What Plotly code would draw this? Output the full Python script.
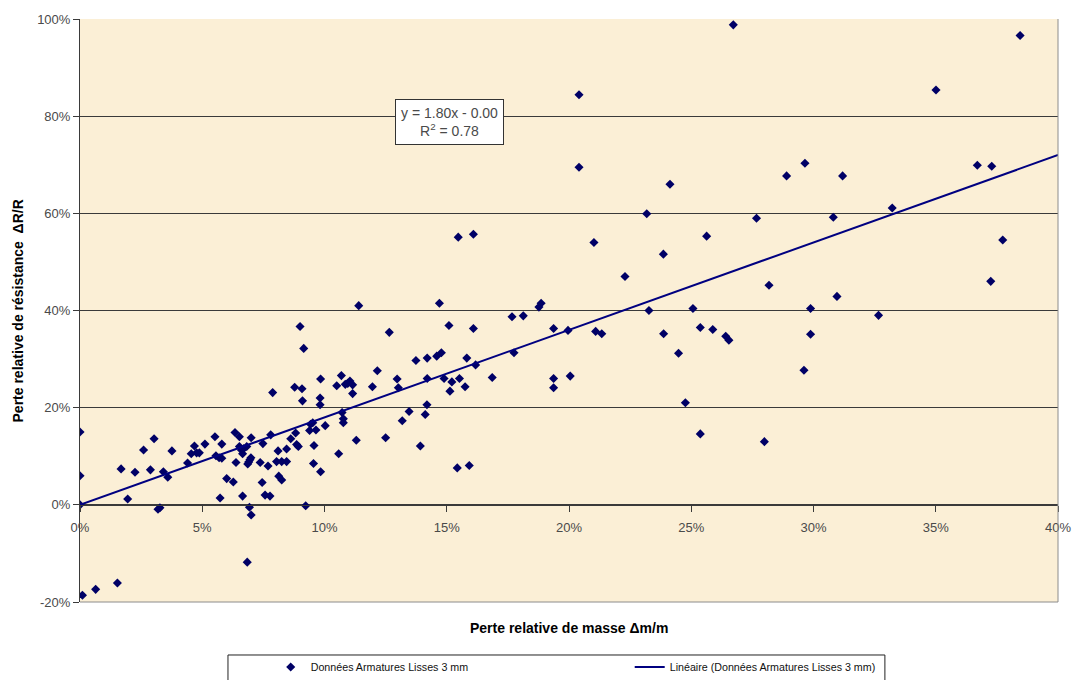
import plotly.graph_objects as go

# Relative mass loss (%) and relative resistance loss (%) of smooth 3 mm bars
mass_loss = [
    0.0, 0.0, 0.0, 0.1, 0.64, 1.53, 1.68, 1.95, 2.25, 2.6,
    2.88, 3.03, 3.19, 3.27, 3.41, 3.59, 3.76, 4.4, 4.55, 4.68,
    4.77, 4.88, 5.11, 5.52, 5.56, 5.69, 5.8, 5.73, 5.8, 6.0,
    6.27, 6.34, 6.38, 6.52, 6.52, 6.6, 6.65, 6.7, 6.65, 6.82,
    6.86, 6.9, 6.95, 6.99, 6.93, 7.0, 7.0, 6.84, 7.37, 7.45,
    7.48, 7.57, 7.77, 7.69, 7.8, 7.88, 8.1, 8.04, 8.25, 8.13,
    8.25, 8.45, 8.45, 8.62, 8.78, 8.82, 8.86, 8.93, 9.0, 9.08,
    9.1, 9.15, 9.23, 9.39, 9.43, 9.52, 9.55, 9.57, 9.65, 9.82,
    9.82, 9.84, 9.84, 10.03, 10.5, 10.58, 10.69, 10.72, 10.77, 10.77,
    10.85, 10.95, 11.04, 11.15, 11.15, 11.3, 11.4, 11.96, 12.16, 12.5,
    12.65, 12.97, 13.02, 13.18, 13.46, 13.74, 13.92, 14.12, 14.19, 14.2,
    14.2, 14.59, 14.78, 14.7, 14.89, 15.09, 15.13, 15.21, 15.43, 15.52,
    15.75, 15.82, 15.92, 16.09, 16.18, 16.86, 17.67, 18.13, 17.75, 18.77,
    18.86, 19.37, 19.37, 19.37, 19.96, 20.05, 21.09, 21.34, 23.27, 23.87,
    24.48, 24.76, 25.07, 25.37, 25.37, 20.41, 20.41, 24.13, 23.18, 15.47,
    16.09, 21.02, 25.63, 23.86, 22.29, 26.72, 38.45, 35.01, 29.65, 28.9,
    31.19, 36.7, 37.29, 27.67, 30.81, 33.22, 37.74, 28.18, 37.25, 30.96,
    29.88, 32.66, 25.88, 26.41, 26.54, 29.88, 29.61, 27.99,
]
resistance_loss = [
    15.0, 6.0, 0.0, -18.6, -17.4, -16.1, 7.4, 1.2, 6.7, 11.3,
    7.2, 13.6, -0.9, -0.6, 6.8, 5.7, 11.1, 8.6, 10.5, 12.1,
    10.7, 10.7, 12.5, 14.0, 10.1, 9.7, 9.6, 1.4, 12.5, 5.4,
    4.7, 14.9, 8.7, 14.0, 12.0, 11.3, 10.5, 11.6, 1.8, 12.0,
    8.4, 8.8, 9.3, 9.7, -0.5, 13.8, -2.1, -11.8, 8.7, 4.6,
    12.6, 2.0, 1.8, 8.0, 14.4, 23.1, 11.1, 8.9, 8.9, 5.9,
    5.1, 8.9, 11.5, 13.6, 24.2, 14.8, 12.4, 12.0, 36.7, 23.9,
    21.4, 32.2, -0.2, 15.3, 16.6, 16.9, 8.5, 12.2, 15.4, 22.0,
    20.6, 25.9, 6.8, 16.3, 24.5, 10.5, 26.6, 19.0, 17.7, 16.9,
    24.8, 25.0, 25.5, 24.7, 22.9, 13.3, 41.0, 24.3, 27.6, 13.8,
    35.5, 25.9, 24.1, 17.3, 19.2, 29.7, 12.1, 18.6, 20.6, 30.2,
    26.0, 30.6, 31.3, 41.5, 26.0, 36.9, 23.4, 25.3, 7.6, 26.0,
    24.3, 30.2, 8.1, 36.3, 28.8, 26.2, 38.7, 38.9, 31.3, 40.7,
    41.5, 36.3, 26.0, 24.1, 35.9, 26.5, 35.7, 35.2, 40.0, 35.2,
    31.2, 21.0, 40.4, 36.5, 14.6, 84.4, 69.5, 66.0, 59.9, 55.1,
    55.7, 54.0, 55.3, 51.6, 47.0, 98.8, 96.6, 85.4, 70.3, 67.7,
    67.7, 69.9, 69.7, 59.0, 59.2, 61.1, 54.5, 45.2, 46.0, 42.9,
    40.4, 39.0, 36.1, 34.7, 33.9, 35.1, 27.7, 13.0,
]

# Linear trend as reported on the chart
TREND_SLOPE = 1.80
TREND_INTERCEPT = 0.00
TREND_R2 = 0.78
trend_x = [0, 40]
trend_y = [TREND_SLOPE * x + TREND_INTERCEPT for x in trend_x]

x_ticks = [0, 5, 10, 15, 20, 25, 30, 35, 40]
x_tick_labels = ["0%", "5%", "10%", "15%", "20%", "25%", "30%", "35%", "40%"]
y_ticks = [-20, 0, 20, 40, 60, 80, 100]
y_tick_labels = ["-20%", "0%", "20%", "40%", "60%", "80%", "100%"]

SERIES_NAME = "Données Armatures Lisses 3 mm"
FONT = "Liberation Sans, Arial, sans-serif"
NAVY = "#000080"
GRID = "#3a3a3a"
TICK_TEXT = "#4a4a4a"

fig = go.Figure()
fig.add_trace(go.Scatter(
    x=mass_loss, y=resistance_loss, mode="markers", name=SERIES_NAME,
    marker=dict(symbol="diamond", size=7, color="#000066", line=dict(width=0)),
))
fig.add_trace(go.Scatter(
    x=trend_x, y=trend_y, mode="lines", name=f"Linéaire ({SERIES_NAME})",
    line=dict(color=NAVY, width=2),
))

fig.update_layout(
    width=1073, height=680,
    margin=dict(l=80, r=15, t=19, b=78, autoexpand=False),
    paper_bgcolor="white",
    plot_bgcolor="#fbefd6",
    font=dict(family=FONT, size=13, color=TICK_TEXT),
    showlegend=True,
    legend=dict(
        orientation="h", xanchor="left", yanchor="middle",
        x=0.195, y=-0.1115, entrywidth=314,
        bgcolor="rgba(0,0,0,0)", borderwidth=0,
        font=dict(family=FONT, size=10.7, color="#111"),
        itemclick=False,
    ),
    xaxis=dict(
        range=[0, 40], tickmode="array", tickvals=x_ticks, ticktext=x_tick_labels,
        anchor="free", position=1 / 6,
        showline=True, linecolor=GRID, linewidth=1,
        ticks="outside", ticklen=6, tickcolor=GRID, ticklabelstandoff=5,
        showgrid=False, zeroline=False,
        tickfont=dict(family=FONT, size=13, color=TICK_TEXT),
    ),
    yaxis=dict(
        range=[-20, 100], tickmode="array", tickvals=y_ticks, ticktext=y_tick_labels,
        showline=True, linecolor=GRID, linewidth=1,
        ticks="outside", ticklen=6, tickcolor=GRID,
        showgrid=True, gridcolor=GRID, gridwidth=1, zeroline=False,
        tickfont=dict(family=FONT, size=13, color=TICK_TEXT),
    ),
    shapes=[
        # plot-area frame on the right and bottom
        dict(type="line", xref="paper", yref="paper", x0=1, x1=1, y0=0, y1=1,
             line=dict(color="#8c8c8c", width=1), layer="above"),
        dict(type="line", xref="paper", yref="paper", x0=0, x1=1, y0=0, y1=0,
             line=dict(color="#8c8c8c", width=1), layer="above"),
        # legend frame
        dict(type="rect", xref="paper", yref="paper",
             x0=0.1513, x1=0.823, y0=-0.139, y1=-0.0909,
             line=dict(color="#222", width=1), fillcolor="white", layer="below"),
    ],
    annotations=[
        dict(text="<b>Perte relative de masse Δm/m</b>", xref="paper", yref="paper",
             x=0.5, y=-0.0446, xanchor="center", yanchor="middle", showarrow=False,
             font=dict(family=FONT, size=14, color="#000")),
        dict(text="<b>Perte relative de résistance  ΔR/R</b>", xref="paper", yref="paper",
             x=-0.0634, y=0.5, xanchor="center", yanchor="middle", showarrow=False,
             textangle=-90, font=dict(family=FONT, size=14, color="#000")),
        dict(text=f"y = {TREND_SLOPE:.2f}x - {abs(TREND_INTERCEPT):.2f}<br>R<sup>2</sup> = {TREND_R2:.2f}",
             x=15.11, y=78.8, xref="x", yref="y", showarrow=False,
             align="center", bgcolor="white", bordercolor="#333", borderwidth=1,
             borderpad=5, font=dict(family=FONT, size=14, color=TICK_TEXT)),
    ],
)

fig.write_html("out.html")
